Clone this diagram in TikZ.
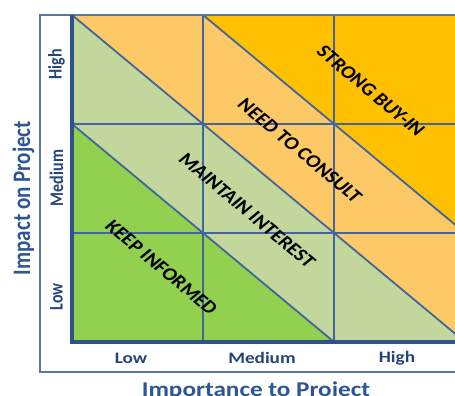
\documentclass[tikz,border=0pt]{standalone}
\usepackage{fontspec}
\setmainfont{Carlito}
\definecolor{cOrange}{HTML}{FFC000}
\definecolor{cLOrange}{HTML}{FDC866}
\definecolor{cLGreen}{HTML}{C3D69B}
\definecolor{cGreen}{HTML}{92D050}
\definecolor{cLine}{HTML}{41659C}
\definecolor{cEdge}{HTML}{2F5288}
\definecolor{cFrame}{HTML}{5877A8}
\definecolor{cTitle}{HTML}{2E5596}
\definecolor{cTick}{HTML}{24437A}
\tikzset{
  gridline/.style={draw=cLine, line width=2.6pt},
  diagline/.style={draw=cLine, line width=1.8pt},
  edgeline/.style={draw=cEdge, line width=3.6pt},
  frameline/.style={draw=cFrame, line width=1.8pt},
  band/.style={inner sep=0pt, text=black, font=\fontsize{18}{18}\selectfont\bfseries, rotate=-45},
  tick/.style={inner sep=0pt, text=cTick, font=\fontsize{16}{16}\selectfont\bfseries},
  axtitle/.style={inner sep=0pt, text=cTitle, font=\fontsize{21}{21}\selectfont\bfseries}
}
\begin{document}
\begin{tikzpicture}[x=1pt,y=-1pt,xscale=1.2,every node/.append style={transform shape}]
\useasboundingbox (0,0) rectangle (379.1667,396);
\clip (0,0) rectangle (379.1667,396);
% grid corners
\coordinate (a0) at (60,15);
\coordinate (b0) at (169.17,15);
\coordinate (c0) at (278.33,15);
\coordinate (d0) at (387.5,15);
\coordinate (a1) at (60,124);
\coordinate (d1) at (387.5,124);
\coordinate (a2) at (60,233);
\coordinate (d2) at (387.5,233);
\coordinate (a3) at (60,342);
\coordinate (b3) at (169.17,342);
\coordinate (c3) at (278.33,342);
\coordinate (d3) at (387.5,342);
% bands
\fill[cOrange] (a0) rectangle (d3);
\fill[cLOrange] (a0) -- (b0) -- (d2) -- (d3) -- (a3) -- cycle;
\fill[cLGreen] (a0) -- (d3) -- (a3) -- cycle;
\fill[cGreen] (a1) -- (c3) -- (a3) -- cycle;
% diagonals
\draw[diagline] (b0) -- (d2);
\draw[diagline] (a0) -- (d3);
\draw[diagline] (a1) -- (c3);
% grid
\draw[gridline] (b0) -- (b3);
\draw[gridline] (c0) -- (c3);
\draw[gridline] (a1) -- (d1);
\draw[gridline] (a2) -- (d2);
% outer frame
\coordinate (f0) at (33.33,15);
\coordinate (f1) at (33.33,372);
\coordinate (f2) at (400,372);
\coordinate (f3) at (400,15);
\draw[frameline] (f3) -- (f0) -- (f1) -- (f2);
\draw[edgeline] (a0) -- (a3) -- (d3);
% band labels
\node[band] (strong) at (309,91) {STRONG BUY-IN};
\node[band] (consult) at (250,150.5) {NEED TO CONSULT};
\node[band] (maintain) at (206,210.5) {MAINTAIN INTEREST};
\node[band] (keep) at (134.6,267.5) {KEEP INFORMED};
% ticks
\node[tick, rotate=90] (yhigh) at (47.1,64) {High};
\node[tick, rotate=90] (ymed) at (47.1,178) {Medium};
\node[tick, rotate=90] (ylow) at (47.1,297) {Low};
\node[tick] (xlow) at (109.2,358) {Low};
\node[tick] (xmed) at (218.3,358) {Medium};
\node[tick] (xhigh) at (330.8,358) {High};
% axis titles
\node[axtitle, rotate=90, anchor=base] (ytitle) at (25,198) {Impact on Project};
\node[axtitle, anchor=base] (xtitle) at (213.3,396.5) {Importance to Project};
\end{tikzpicture}
\end{document}
